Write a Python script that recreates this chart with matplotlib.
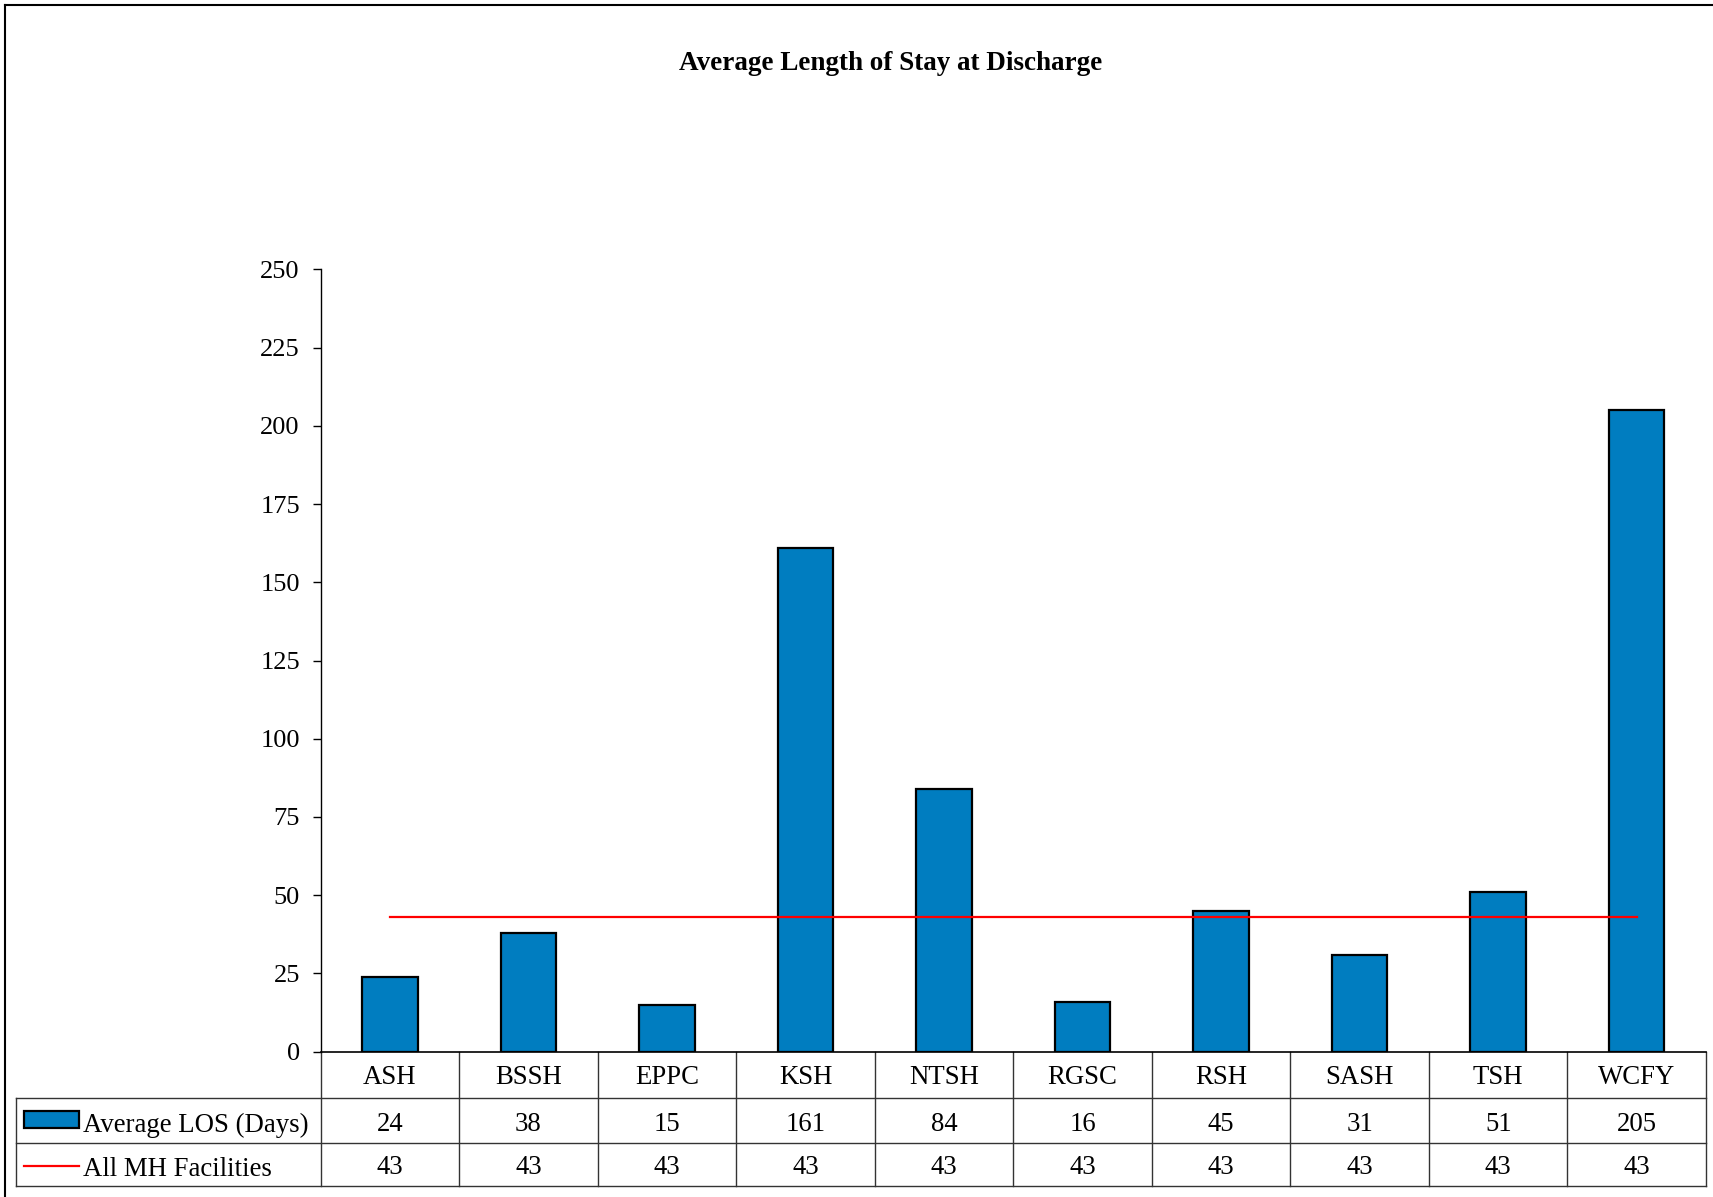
import matplotlib
matplotlib.use("Agg")
import matplotlib.pyplot as plt
import matplotlib.transforms as mtransforms
from matplotlib.patches import Rectangle
from matplotlib.lines import Line2D
import numpy as np

# 数据
facilities = ['ASH', 'BSSH', 'EPPC', 'KSH', 'NTSH', 'RGSC', 'RSH', 'SASH', 'TSH', 'WCFY']
avg_los = [24, 38, 15, 161, 84, 16, 45, 31, 51, 205]
all_mh = [43, 43, 43, 43, 43, 43, 43, 43, 43, 43]
y_ticks = [0, 25, 50, 75, 100, 125, 150, 175, 200, 225, 250]

bar_color = '#007DC0'
line_color = '#FF0000'
grid_color = '#333333'

plt.rcParams['font.family'] = ['Liberation Serif', 'DejaVu Serif']

W, H = 1713, 1197
fig = plt.figure(figsize=(W / 100, H / 100), dpi=100)
fig.patch.set_facecolor('white')

ax = fig.add_axes([320.7 / W, 1 - 1051.7 / H, (1706 - 320.7) / W, (1051.7 - 269.3) / H])

x = np.arange(len(facilities))
ax.bar(x, avg_los, width=0.4, color=bar_color, edgecolor='black', linewidth=1.6, zorder=2)
ax.plot(x, all_mh, color=line_color, linewidth=1.6, zorder=3)

ax.set_xlim(-0.5, len(facilities) - 0.5)
ax.set_ylim(0, 250)
ax.set_yticks(y_ticks)
ax.tick_params(axis='y', direction='out', length=6, width=1, labelsize=19, pad=9)
ax.set_xticks([])
for s in ['top', 'right']:
    ax.spines[s].set_visible(False)
ax.spines['left'].set_linewidth(1)
ax.spines['bottom'].set_linewidth(1.2)

# 标题
fig.text(891 / W, 1 - 64 / H, 'Average Length of Stay at Discharge',
         ha='center', va='center', fontsize=19.5, fontweight='bold')

# 数据表（x 为数据坐标，y 为轴坐标）
tr = mtransforms.blended_transform_factory(ax.transData, ax.transAxes)
tr_fig = mtransforms.blended_transform_factory(fig.transFigure, ax.transAxes)

row_lines = [-0.0592, -0.1163, -0.1717]
row_centers = [-0.0325, -0.0925, -0.1485]
left_fig = 15.7 / W

for k in range(len(facilities) + 1):
    ax.add_line(Line2D([k - 0.5, k - 0.5], [0, row_lines[-1]], transform=tr,
                       color=grid_color, lw=1, clip_on=False))
for yl in row_lines:
    ax.add_line(Line2D([left_fig, 1706 / W], [yl, yl], transform=tr_fig,
                       color=grid_color, lw=1, clip_on=False))
ax.add_line(Line2D([left_fig, left_fig], [row_lines[0], row_lines[-1]], transform=tr_fig,
                   color=grid_color, lw=1, clip_on=False))

for i, name in enumerate(facilities):
    ax.text(i, row_centers[0], name, transform=tr, ha='center', va='center', fontsize=19.3)
    ax.text(i, row_centers[1], str(avg_los[i]), transform=tr, ha='center', va='center', fontsize=19.3)
    ax.text(i, row_centers[2], str(all_mh[i]), transform=tr, ha='center', va='center', fontsize=19.3)

# 图例符号
sw_h = 17 / (1051.7 - 269.3)
ax.add_patch(Rectangle((24 / W, -0.0871 - sw_h / 2), 55 / W, sw_h,
                       transform=tr_fig, facecolor=bar_color, edgecolor='black',
                       linewidth=1.6, clip_on=False))
ax.add_line(Line2D([24 / W, 79 / W], [-0.1455, -0.1455],
                   transform=tr_fig, color=line_color, lw=1.6, clip_on=False))
ax.text(83 / W, row_centers[1] - 0.002, 'Average LOS (Days)', transform=tr_fig,
        ha='left', va='center', fontsize=19.3)
ax.text(83 / W, row_centers[2] - 0.002, 'All MH Facilities', transform=tr_fig,
        ha='left', va='center', fontsize=19.3)

# 外框
fig.add_artist(Line2D([4.5 / W, 4.5 / W], [0, 1 - 4.5 / H], transform=fig.transFigure,
                      color='black', lw=1.5))
fig.add_artist(Line2D([4.5 / W, 1], [1 - 4.5 / H, 1 - 4.5 / H], transform=fig.transFigure,
                      color='black', lw=1.5))

fig.savefig('out.png', dpi=100, facecolor='white')
